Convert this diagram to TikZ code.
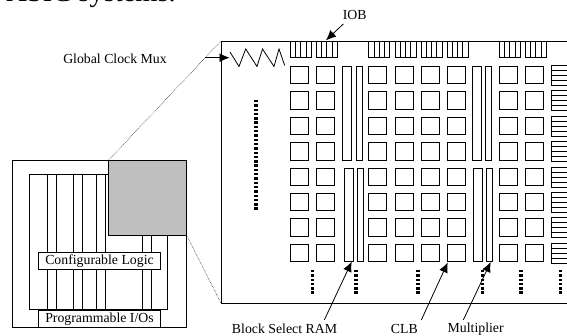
\documentclass[tikz,border=0pt]{standalone}
\usepackage{fontspec}
\setmainfont{Liberation Serif}
\usetikzlibrary{arrows.meta}
\tikzset{
  lbl/.style={font=\fontsize{13.8}{15}\selectfont,inner sep=0pt},
  tagbox/.style={draw,fill=white,line width=0.8pt,minimum width=121.5pt,minimum height=16.8pt,font=\fontsize{13.8}{15}\selectfont,inner sep=0pt},
  ptr/.style={-{Latex[length=10pt,width=9pt]},line width=0.8pt},
  dots/.style={line width=3.6pt,dash pattern=on 2.4pt off 1.9pt},
  zoomline/.style={line width=0.5pt,densely dotted}
}
\begin{document}
\begin{tikzpicture}[x=1pt,y=-1pt,line width=0.8pt]
\useasboundingbox (0,0) rectangle (567,336);
\node[anchor=base west,inner sep=0pt,font=\fontsize{28.5}{30}\selectfont] (title) at (6,2) {ASIC systems.};
% chip on the left
\draw (12.7,160) rectangle (186.7,327.7);
\draw (29.3,174.3) rectangle (167.7,309.3);
\foreach \x in {47.7,56,73.3,82,96.7,105.7,142.7,151.7}
  \draw (\x,174.3) -- (\x,309.3);
\draw[fill=black!25] (108.7,160) rectangle (186.7,235.3);
\node[tagbox] (logic) at (99.5,261) {Configurable Logic};
\node[tagbox] (pios) at (99.5,319) {Programmable I/Os};
% zoomed part
\coordinate (zoomtop) at (221,41);
\coordinate (zoombot) at (221,303.3);
\coordinate (graytop) at (108.7,160);
\coordinate (graybot) at (186.7,235.3);
\draw[zoomline] (graytop) -- (zoomtop);
\draw[zoomline] (graybot) -- (zoombot);
\draw (567,41) -- (zoomtop) -- (zoombot) -- (567,303.3);
% IOBs
\foreach \x in {290.3,316.3,368.7,395,421,447,499.3,525.3} {
  \draw (\x,41) rectangle ++(21,16.3);
  \foreach \i in {1,2,3}
    \draw (\x+5.25*\i,41) -- (\x+5.25*\i,57.3);
}
% CLBs
\foreach \y in {66,91.5,117,142.5,168,193,218.5,244} {
  \foreach \x in {290.3,316.3,368.7,395,421,447,499.3,525.3}
    \draw (\x,\y) rectangle ++(18,17.5);
  \draw (567,\y-1) -- (551.7,\y-1) -- (551.7,\y+19) -- (567,\y+19);
  \foreach \i in {1,2,3}
    \draw (551.7,\y-1+5*\i) -- (567,\y-1+5*\i);
}
% RAM and multiplier columns
\draw (342.7,66) rectangle (351.7,160);
\draw (356,66) rectangle (362,160);
\draw (344,168) rectangle (353,261.5);
\draw (357.3,168) rectangle (363.3,261.5);
\draw (472,66) rectangle (481,160);
\draw (485.3,66) rectangle (491.3,160);
\draw (473.3,168) rectangle (482.3,261.5);
\draw (486.3,168) rectangle (492.3,261.5);
% clock mux
\draw (230,52) -- (239,66.5) -- (245.7,49) -- (257,66.5) -- (262.5,49) -- (274,66.5) -- (279,49) -- (284.7,65.5);
% continuation dots
\draw[dots] (256,100) -- (256,210);
\foreach \x in {312.3,355.7,418,482.3,520.7,560.3}
  \draw[dots] (\x,270) -- (\x,294.5);
% labels
\node[lbl] (mux) at (115,59) {Global Clock Mux};
\node[lbl] (iob) at (354.7,15.3) {IOB};
\node[lbl] (ram) at (284.5,329) {Block Select RAM};
\node[lbl] (clb) at (404.3,329) {CLB};
\node[lbl] (mult) at (475.7,329) {Multiplier};
\coordinate (muxfrom) at (205,57.7);
\coordinate (muxtip) at (229.5,57.7);
\coordinate (iobfrom) at (343.3,24);
\coordinate (iobtip) at (326,40.3);
\coordinate (ramfrom) at (324.3,320);
\coordinate (ramtip) at (351.7,261.7);
\coordinate (clbfrom) at (421.3,320);
\coordinate (clbtip) at (447.7,262.5);
\coordinate (multfrom) at (463.3,320);
\coordinate (multtip) at (490.7,262);
\draw[ptr] (muxfrom) -- (muxtip);
\draw[ptr] (iobfrom) -- (iobtip);
\draw[ptr] (ramfrom) -- (ramtip);
\draw[ptr] (clbfrom) -- (clbtip);
\draw[ptr] (multfrom) -- (multtip);
\end{tikzpicture}
\end{document}
